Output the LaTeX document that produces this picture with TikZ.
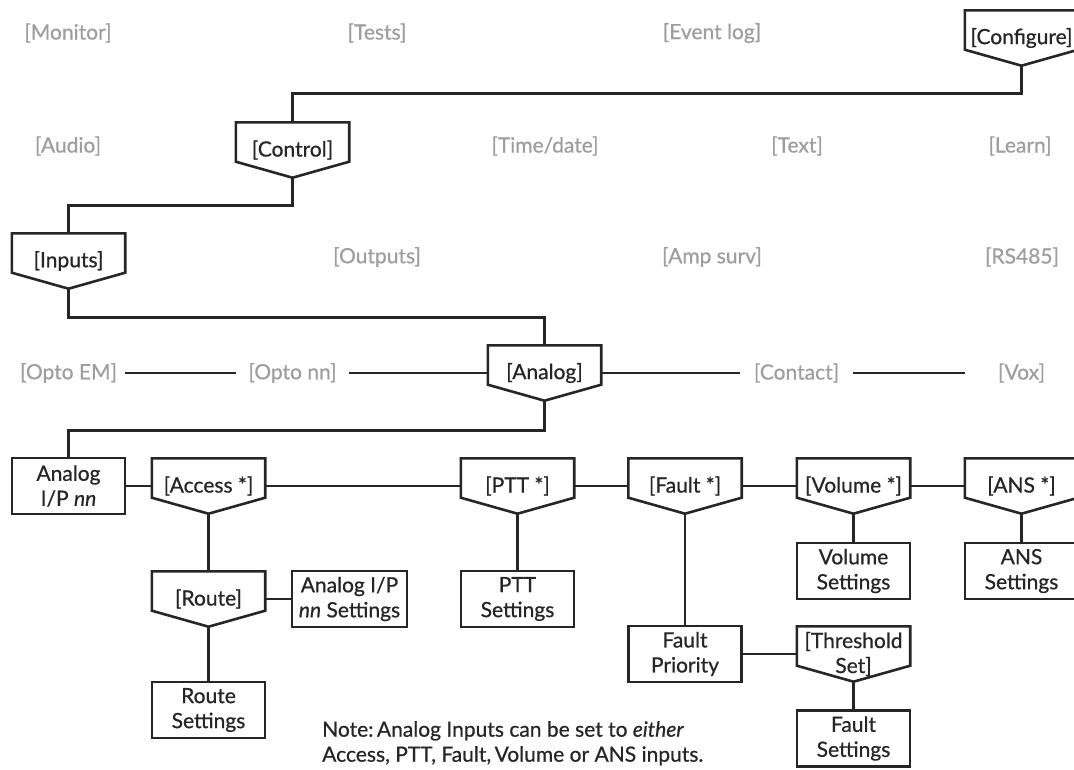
\documentclass[tikz,border=0pt]{standalone}
\usepackage{fontspec}
\setmainfont{Lato}[FakeBold=0.7]
\usetikzlibrary{positioning}

\begin{document}
\begin{tikzpicture}[
    x=1pt, y=1pt,
    every node/.style={font=\fontsize{21}{25}\selectfont, text=black!85},
    menu/.style={rectangle, minimum width=113pt, minimum height=55pt, inner sep=0pt, align=center},
    leaf/.style={rectangle, draw=black!85, line width=2.6pt, minimum width=113pt, minimum height=56pt, inner sep=0pt, align=center},
    greyed/.style={rectangle, minimum width=113pt, inner sep=0pt, text=black!38},
    conn/.style={black!85, line width=2.6pt}
]

% -------- Layout --------
\def\xA{68.5}
\def\xB{292.5}
\def\xC{544.5}
\def\xD{796.5}
\def\xE{1021.5}

\def\yconf{-38}
\def\yctrl{-150}
\def\yinp{-261}
\def\yana{-373}
\def\yrow{-486}
\def\yroute{-599}
\def\ythr{-654}

\useasboundingbox (0,0) rectangle (1074,-769);

% -------- Greyed-out menu items --------
\foreach \n/\x/\y/\t in {monitor/68/-33/{[Monitor]}, tests/377/-33/{[Tests]},
    eventlog/712/-33/{[Event log]}, audio/68/-146/{[Audio]},
    timedate/545/-146/{[Time/date]}, txt/797/-146/{[Text]},
    learn/1020/-146/{[Learn]}, outputs/377/-257/{[Outputs]},
    ampsurv/712/-257/{[Amp surv]}, rs485/1022/-257/{[RS485]},
    optoem/\xA/\yana/{[Opto EM]}, optonn/\xB/\yana/{[Opto nn]},
    contact/\xD/\yana/{[Contact]}, vox/\xE/\yana/{[Vox]}}
    \node[greyed] (\n) at (\x,\y) {\t};

% -------- Menu path --------
\node[menu] (conf) at (\xE,\yconf) {[Configure]};
\node[menu] (ctrl) at (\xB,\yctrl) {[Control]};
\node[menu] (inputs) at (\xA,\yinp) {[Inputs]};
\node[menu] (analog) at (\xC,\yana) {[Analog]};

% -------- Analog input row --------
\node[leaf] (aip) at (\xA,\yrow) {Analog\\I/P \textit{nn}};
\node[menu] (access) at (208.5,\yrow) {[Access *]};
\node[menu] (ptt) at (517.5,\yrow) {[PTT *]};
\node[menu] (fault) at (685,\yrow) {[Fault *]};
\node[menu] (volume) at (853.5,\yrow) {[Volume *]};
\node[menu] (ans) at (\xE,\yrow) {[ANS *]};

% -------- Sub menus and settings --------
\node[menu] (route) at (208.5,\yroute) {[Route]};
\node[leaf, minimum width=115pt] (aipset) at (349.5,\yroute) {Analog I/P\\\textit{nn} Settings};
\node[leaf] (routeset) at (208.5,-710) {Route\\Settings};
\node[leaf] (pttset) at (517.5,\yroute) {PTT\\Settings};
\node[leaf] (fprio) at (685,\ythr) {Fault\\Priority};
\node[menu] (thresh) at (853.5,\ythr) {[Threshold\\Set]};
\node[leaf] (fset) at (853.5,-738.5) {Fault\\Settings};
\node[leaf] (volset) at (853.5,-571) {Volume\\Settings};
\node[leaf] (ansset) at (\xE,-571) {ANS\\Settings};

\node[anchor=north west, align=left, inner sep=0pt] (note) at (322,-721)
    {Note:\,Analog Inputs can be set to \textit{either}\\Access, PTT, Fault,\,Volume or ANS inputs.};

% -------- Menu outlines --------
\foreach \n in {conf,ctrl,inputs,analog,access,ptt,fault,volume,ans,route,thresh}
    \draw[conn] (\n.north west) -- (\n.north east) -- ([yshift=16pt]\n.south east)
        -- (\n.south) -- ([yshift=16pt]\n.south west) -- cycle;

% -------- Connectors --------
\draw[conn] (conf.south) -- ++(0,-27.5) -| (ctrl.north);
\draw[conn] (ctrl.south) -- ++(0,-27.5) -| (inputs.north);
\draw[conn] (inputs.south) -- ++(0,-28.5) -| (analog.north);
\draw[conn] (analog.south) -- ++(0,-29.5) -| (aip.north);

\foreach \a/\b in {aip/access, access/ptt, ptt/fault, fault/volume, volume/ans,
    route/aipset, fprio/thresh, optoem/optonn, optonn/analog, analog/contact, contact/vox}
    \draw[conn] (\a.east) -- (\b.west);

\foreach \a/\b in {access/route, route/routeset, ptt/pttset, fault/fprio,
    thresh/fset, volume/volset, ans/ansset}
    \draw[conn] (\a.south) -- (\b.north);

\end{tikzpicture}
\end{document}
